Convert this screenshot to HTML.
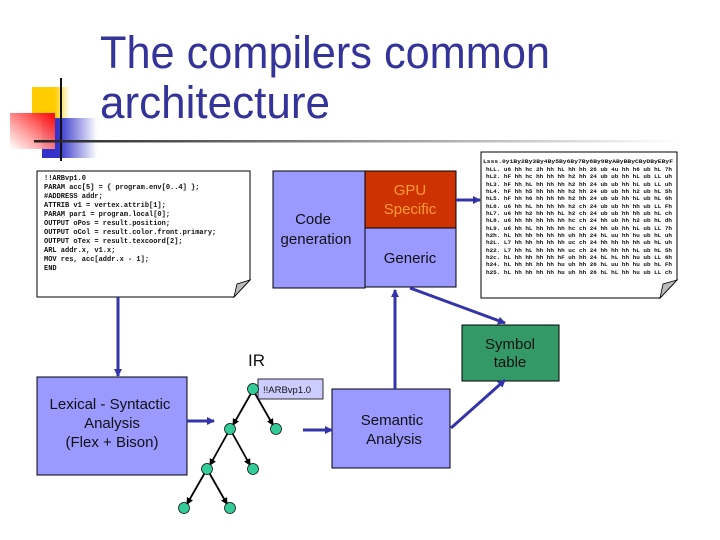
<!DOCTYPE html>
<html><head><meta charset="utf-8"><style>
html,body{margin:0;padding:0;background:#fff;}
svg{display:block;}
.t{font-family:"Liberation Sans",sans-serif;}
.m{font-family:"Liberation Mono",monospace;font-size:7px;fill:#111;font-weight:bold;}
.h{font-family:"Liberation Mono",monospace;font-size:5.6px;fill:#111;font-weight:bold;}
</style></head><body>
<svg width="720" height="540" viewBox="0 0 720 540" xmlns="http://www.w3.org/2000/svg">
<defs>
<linearGradient id="gy" x1="0" x2="1"><stop offset="0.6" stop-color="#ffcc00"/><stop offset="1" stop-color="#fff"/></linearGradient>
<linearGradient id="gr" x1="1" y1="0" x2="0" y2="1"><stop offset="0" stop-color="#ff0000"/><stop offset="1" stop-color="#fff" stop-opacity="0.9"/></linearGradient>
<linearGradient id="gb" x1="0" x2="1"><stop offset="0.3" stop-color="#3333cc"/><stop offset="1" stop-color="#fff"/></linearGradient>
<linearGradient id="gl" x1="0" x2="1"><stop offset="0" stop-color="#222"/><stop offset="1" stop-color="#fff"/></linearGradient>
<marker id="a" markerWidth="8" markerHeight="8" refX="7" refY="4" orient="auto" markerUnits="userSpaceOnUse"><path d="M0,0 L8,4 L0,8 Z" fill="#3333aa"/></marker>
<marker id="k" markerWidth="7" markerHeight="7" refX="6" refY="3.5" orient="auto" markerUnits="userSpaceOnUse"><path d="M0,0 L7,3.5 L0,7 Z" fill="#000"/></marker>
</defs>
<rect x="32" y="87" width="38" height="31" fill="url(#gy)"/>
<rect x="42" y="118" width="55" height="40" fill="url(#gb)"/>
<rect x="10" y="113" width="45" height="36" fill="url(#gr)"/>
<line x1="61" y1="78" x2="61" y2="161" stroke="#111" stroke-width="2"/>
<rect x="34" y="140" width="645" height="2.5" fill="url(#gl)"/>
<text class="t" x="100" y="68" font-size="45" fill="#333399" textLength="450" lengthAdjust="spacingAndGlyphs">The compilers common</text>
<text class="t" x="100" y="118" font-size="45" fill="#333399" textLength="230" lengthAdjust="spacingAndGlyphs">architecture</text>

<!-- code doc -->
<path d="M37,171 H250 V280 L234,297 H37 Z" fill="#fff" stroke="#000" stroke-width="1"/>
<path d="M234,297 L237,284 L250,280 Z" fill="#bbb" stroke="#000" stroke-width="0.8"/>
<g class="m">
<text x="44" y="180">!!ARBvp1.0</text>
<text x="44" y="189">PARAM acc[5]  = { program.env[0..4] };</text>
<text x="44" y="198">#ADDRESS addr;</text>
<text x="44" y="207">ATTRIB v1 = vertex.attrib[1];</text>
<text x="44" y="216">PARAM par1 = program.local[0];</text>
<text x="44" y="225">OUTPUT oPos = result.position;</text>
<text x="44" y="234">OUTPUT oCol = result.color.front.primary;</text>
<text x="44" y="243">OUTPUT oTex = result.texcoord[2];</text>
<text x="44" y="252">ARL addr.x, v1.x;</text>
<text x="44" y="261">MOV res, acc[addr.x - 1];</text>
<text x="44" y="270">END</text>
</g>

<!-- code gen -->
<rect x="273" y="171" width="92" height="117" fill="#9999ff" stroke="#000"/>
<rect x="365" y="171" width="91" height="57" fill="#cc3300" stroke="#000"/>
<rect x="365" y="228" width="91" height="59" fill="#9999ff" stroke="#000"/>
<text class="t" x="313" y="224" font-size="15" fill="#111" text-anchor="middle">Code</text>
<text class="t" x="316" y="244" font-size="15" fill="#111" text-anchor="middle">generation</text>
<text class="t" x="410" y="195" font-size="15" fill="#ff9933" text-anchor="middle">GPU</text>
<text class="t" x="410" y="214" font-size="15" fill="#ff9933" text-anchor="middle">Specific</text>
<text class="t" x="410" y="263" font-size="15" fill="#111" text-anchor="middle">Generic</text>
<line x1="456" y1="200" x2="480" y2="200" stroke="#3333aa" stroke-width="3" marker-end="url(#a)"/>

<!-- hex doc -->
<path d="M481,152 H677 V280 L660,298 H481 Z" fill="#fff" stroke="#000"/>
<path d="M660,298 L663,284 L677,280 Z" fill="#bbb" stroke="#000" stroke-width="0.8"/>
<g class="h">
<text x="483" y="163" textLength="190" lengthAdjust="spacingAndGlyphs">Lsss.0y1By2By3By4By5By6By7By8By9ByAByBByCByDByEByF</text>
<text x="486" y="171" textLength="186" lengthAdjust="spacingAndGlyphs">hLL. u6 hh hc 2h hh hL hh hh 26 ub 4u hh h6 ub hL 7h</text>
<text x="486" y="178" textLength="186" lengthAdjust="spacingAndGlyphs">hL2. hF hh hc hh hh hh h2 hh 24 ub ub hh hL ub LL uh</text>
<text x="486" y="186" textLength="186" lengthAdjust="spacingAndGlyphs">hL3. hF hh hL hh hh hh h2 hh 24 ub ub hh hL ub LL uh</text>
<text x="486" y="193" textLength="186" lengthAdjust="spacingAndGlyphs">hL4. hF hh h5 hh hh hh h2 hh 24 ub ub hh h2 ub hL 5h</text>
<text x="486" y="200" textLength="186" lengthAdjust="spacingAndGlyphs">hL5. hF hh h6 hh hh hh h2 hh 24 ub ub hh hL ub hL 6h</text>
<text x="486" y="208" textLength="186" lengthAdjust="spacingAndGlyphs">hL6. u6 hh hL hh hh hh h2 ch 24 ub ub hh hh ub LL Fh</text>
<text x="486" y="215" textLength="186" lengthAdjust="spacingAndGlyphs">hL7. u6 hh h2 hh hh hL h2 ch 24 ub ub hh hh ub hL ch</text>
<text x="486" y="222" textLength="186" lengthAdjust="spacingAndGlyphs">hL8. u6 hh hh hh hh hh hc ch 24 hh ub hh h2 ub hL dh</text>
<text x="486" y="230" textLength="186" lengthAdjust="spacingAndGlyphs">hL9. u6 hh hL hh hh hh hc ch 24 hh ub hh hL ub LL 7h</text>
<text x="486" y="237" textLength="186" lengthAdjust="spacingAndGlyphs">h2h. hL hh hh hh hh hh uh hh 24 hL uu hh hu ub hL uh</text>
<text x="486" y="244" textLength="186" lengthAdjust="spacingAndGlyphs">h2L. L7 hh hh hh hh hh uc ch 24 hh hh hh hh ub hL uh</text>
<text x="486" y="252" textLength="186" lengthAdjust="spacingAndGlyphs">h22. L7 hh hL hh hh hh uc ch 24 hh hh hh hL ub hL 5h</text>
<text x="486" y="259" textLength="186" lengthAdjust="spacingAndGlyphs">h2c. hL hh hh hh hh hF uh hh 24 hL hL hh hu ub LL 6h</text>
<text x="486" y="266" textLength="186" lengthAdjust="spacingAndGlyphs">h24. hL hh hh hh hh hu uh hh 26 hL uu hh hu ub hL Fh</text>
<text x="486" y="274" textLength="186" lengthAdjust="spacingAndGlyphs">h25. hL hh hh hh hh hu uh hh 26 hL hL hh hu ub LL ch</text>
</g>

<!-- symbol table -->
<rect x="462" y="325" width="97" height="56" fill="#339966" stroke="#000"/>
<text class="t" x="510" y="349" font-size="15" fill="#111" text-anchor="middle">Symbol</text>
<text class="t" x="510" y="367" font-size="15" fill="#111" text-anchor="middle">table</text>

<!-- lexical -->
<rect x="37" y="377" width="150" height="98" fill="#9999ff" stroke="#000"/>
<text class="t" x="110" y="409" font-size="15" fill="#111" text-anchor="middle">Lexical - Syntactic</text>
<text class="t" x="112" y="428" font-size="15" fill="#111" text-anchor="middle">Analysis</text>
<text class="t" x="112" y="447" font-size="15" fill="#111" text-anchor="middle">(Flex + Bison)</text>
<line x1="118" y1="297" x2="118" y2="376" stroke="#3333aa" stroke-width="3" marker-end="url(#a)"/>

<!-- semantic -->
<rect x="332" y="389" width="118" height="79" fill="#9999ff" stroke="#000"/>
<text class="t" x="392" y="425" font-size="15" fill="#111" text-anchor="middle">Semantic</text>
<text class="t" x="394" y="444" font-size="15" fill="#111" text-anchor="middle">Analysis</text>

<line x1="395" y1="389" x2="395" y2="290" stroke="#3333aa" stroke-width="3" marker-end="url(#a)"/>
<line x1="410" y1="288" x2="505" y2="323" stroke="#3333aa" stroke-width="3" marker-end="url(#a)"/>
<line x1="451" y1="428" x2="505" y2="380" stroke="#3333aa" stroke-width="3" marker-end="url(#a)"/>
<line x1="187" y1="421" x2="214" y2="421" stroke="#3333aa" stroke-width="3" marker-end="url(#a)"/>
<line x1="303" y1="430" x2="332" y2="430" stroke="#3333aa" stroke-width="3" marker-end="url(#a)"/>

<!-- IR -->
<text class="t" x="248" y="366" font-size="17" fill="#111">IR</text>
<rect x="258" y="379" width="65" height="20" fill="#ccccff" stroke="#000" stroke-width="0.8"/>
<text class="t" x="263" y="393" font-size="9.5" fill="#111">!!ARBvp1.0</text>
<g stroke="#000" stroke-width="1.8">
<line x1="253" y1="390" x2="233" y2="425" marker-end="url(#k)"/>
<line x1="253" y1="390" x2="273" y2="425" marker-end="url(#k)"/>
<line x1="230" y1="429" x2="210" y2="465" marker-end="url(#k)"/>
<line x1="230" y1="429" x2="250" y2="465" marker-end="url(#k)"/>
<line x1="207" y1="469" x2="187" y2="504" marker-end="url(#k)"/>
<line x1="207" y1="469" x2="227" y2="504" marker-end="url(#k)"/>
</g>
<g fill="#33cc99" stroke="#000" stroke-width="0.7">
<circle cx="253" cy="389" r="5.5"/><circle cx="230" cy="429" r="5.5"/><circle cx="276" cy="429" r="5.5"/>
<circle cx="207" cy="469" r="5.5"/><circle cx="253" cy="469" r="5.5"/>
<circle cx="184" cy="508" r="5.5"/><circle cx="230" cy="508" r="5.5"/>
</g>
</svg>
</body></html>
